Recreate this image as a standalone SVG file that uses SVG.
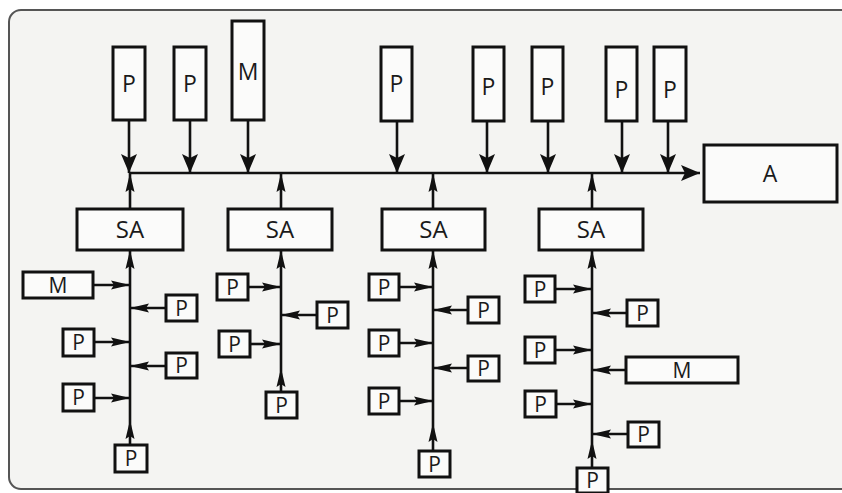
<svg xmlns="http://www.w3.org/2000/svg" width="842" height="493" viewBox="0 0 842 493">
<defs>
<style>
.box{fill:#fbfbfa;stroke:#111;stroke-width:3}
.ln{fill:none;stroke:#111;stroke-width:2.6}
.t{font-family:"Open Sans","Noto Sans",sans-serif;font-size:23px;fill:#1a1a1a;text-anchor:middle}
.sa{font-size:24px}
.s{font-size:21px}
.big{marker-end:url(#big)}
.sm{marker-end:url(#sm)}
</style>
<marker id="big" markerUnits="userSpaceOnUse" markerWidth="20" markerHeight="18" refX="19" refY="8" orient="auto" viewBox="0 0 20 16">
<path d="M0,0 L19,8 L0,16 L4,8 z" fill="#111"/>
</marker>
<marker id="sm" markerUnits="userSpaceOnUse" markerWidth="20" markerHeight="10" refX="19" refY="4.5" orient="auto" viewBox="0 0 20 9">
<path d="M0,0 L19,4.5 L0,9 L3,4.5 z" fill="#111"/>
</marker>
</defs>
<rect x="0" y="0" width="842" height="493" fill="#ffffff"/>
<rect x="9" y="10" width="850" height="479" rx="12" fill="#f4f4f2" stroke="#555" stroke-width="2"/>

<g id="connectors">
<path class="ln big" d="M130,173 L700,173"/>
<path class="ln big" d="M129,120 L129,173"/>
<path class="ln big" d="M190,120 L190,173"/>
<path class="ln big" d="M248,120 L248,173"/>
<path class="ln big" d="M397,121 L397,173"/>
<path class="ln big" d="M487,121 L487,173"/>
<path class="ln big" d="M548,121 L548,173"/>
<path class="ln big" d="M622,121 L622,173"/>
<path class="ln big" d="M668,121 L668,173"/>
<path class="ln sm" d="M130,209 L130,173"/>
<path class="ln sm" d="M281,209 L281,173"/>
<path class="ln sm" d="M433,209 L433,173"/>
<path class="ln sm" d="M592,209 L592,173"/>
<path class="ln sm" d="M130,445 L130,420"/>
<path class="ln sm" d="M130,420 L130,250"/>
<path class="ln sm" d="M93,285 L130,285"/>
<path class="ln sm" d="M166,308 L130,308"/>
<path class="ln sm" d="M94,342 L130,342"/>
<path class="ln sm" d="M166,366 L130,366"/>
<path class="ln sm" d="M94,398 L130,398"/>
<path class="ln sm" d="M281,392 L281,368"/>
<path class="ln sm" d="M281,368 L281,250"/>
<path class="ln sm" d="M248,287 L281,287"/>
<path class="ln sm" d="M317,315 L281,315"/>
<path class="ln sm" d="M250,344 L281,344"/>
<path class="ln sm" d="M433,451 L433,423"/>
<path class="ln sm" d="M433,423 L433,250"/>
<path class="ln sm" d="M399,287 L433,287"/>
<path class="ln sm" d="M468,310 L433,310"/>
<path class="ln sm" d="M399,343 L433,343"/>
<path class="ln sm" d="M468,368 L433,368"/>
<path class="ln sm" d="M399,401 L433,401"/>
<path class="ln sm" d="M592,468 L592,440"/>
<path class="ln sm" d="M592,440 L592,250"/>
<path class="ln sm" d="M555,289 L592,289"/>
<path class="ln sm" d="M627,313 L592,313"/>
<path class="ln sm" d="M555,350 L592,350"/>
<path class="ln sm" d="M626,370 L592,370"/>
<path class="ln sm" d="M556,404 L592,404"/>
<path class="ln sm" d="M628,434 L592,434"/>
</g>

<g id="top-p1"><rect class="box" x="113" y="47" width="32" height="73"/><text class="t" x="129" y="92">P</text></g>
<g id="top-p2"><rect class="box" x="174" y="47" width="32" height="73"/><text class="t" x="190" y="92">P</text></g>
<g id="top-m"><rect class="box" x="232" y="21" width="32" height="99"/><text class="t" x="248" y="80">M</text></g>
<g id="top-p3"><rect class="box" x="381" y="47" width="31" height="74"/><text class="t" x="396.5" y="92">P</text></g>
<g id="top-p4"><rect class="box" x="473" y="47" width="31" height="74"/><text class="t" x="488.5" y="95">P</text></g>
<g id="top-p5"><rect class="box" x="532" y="47" width="31" height="74"/><text class="t" x="547.5" y="95">P</text></g>
<g id="top-p6"><rect class="box" x="606" y="47" width="31" height="74"/><text class="t" x="621.5" y="98">P</text></g>
<g id="top-p7"><rect class="box" x="654" y="47" width="32" height="74"/><text class="t" x="670" y="98">P</text></g>
<g id="A"><rect class="box" x="704" y="145" width="133" height="57"/><text class="t" x="770" y="182">A</text></g>

<g id="SA1"><rect class="box" x="77" y="209" width="106" height="41"/><text class="t sa" x="130" y="238">SA</text></g>
<g id="SA2"><rect class="box" x="228" y="209" width="104" height="41"/><text class="t sa" x="280" y="238">SA</text></g>
<g id="SA3"><rect class="box" x="382" y="209" width="103" height="41"/><text class="t sa" x="433.5" y="238">SA</text></g>
<g id="SA4"><rect class="box" x="539" y="209" width="104" height="41"/><text class="t sa" x="591" y="238">SA</text></g>

<g id="g1-m"><rect class="box" x="23" y="272" width="70" height="26"/><text class="t s" x="58" y="293">M</text></g>
<g id="g1-p1"><rect class="box" x="166" y="295" width="31" height="26"/><text class="t s" x="181.5" y="316">P</text></g>
<g id="g1-p2"><rect class="box" x="63" y="329" width="31" height="27"/><text class="t s" x="78.5" y="350">P</text></g>
<g id="g1-p3"><rect class="box" x="166" y="353" width="31" height="25"/><text class="t s" x="181.5" y="373">P</text></g>
<g id="g1-p4"><rect class="box" x="63" y="384" width="31" height="27"/><text class="t s" x="78.5" y="405">P</text></g>
<g id="g1-p5"><rect class="box" x="115" y="445" width="32" height="27"/><text class="t s" x="131" y="466">P</text></g>

<g id="g2-p1"><rect class="box" x="217" y="274" width="31" height="26"/><text class="t s" x="232.5" y="295">P</text></g>
<g id="g2-p2"><rect class="box" x="317" y="302" width="31" height="26"/><text class="t s" x="332.5" y="323">P</text></g>
<g id="g2-p3"><rect class="box" x="219" y="331" width="31" height="26"/><text class="t s" x="234.5" y="352">P</text></g>
<g id="g2-p4"><rect class="box" x="266" y="392" width="31" height="26"/><text class="t s" x="281.5" y="413">P</text></g>

<g id="g3-p1"><rect class="box" x="369" y="274" width="30" height="26"/><text class="t s" x="384" y="295">P</text></g>
<g id="g3-p2"><rect class="box" x="468" y="297" width="31" height="26"/><text class="t s" x="483.5" y="318">P</text></g>
<g id="g3-p3"><rect class="box" x="369" y="330" width="30" height="26"/><text class="t s" x="384" y="351">P</text></g>
<g id="g3-p4"><rect class="box" x="468" y="356" width="31" height="25"/><text class="t s" x="483.5" y="376">P</text></g>
<g id="g3-p5"><rect class="box" x="369" y="388" width="30" height="26"/><text class="t s" x="384" y="409">P</text></g>
<g id="g3-p6"><rect class="box" x="419" y="451" width="31" height="26"/><text class="t s" x="434.5" y="472">P</text></g>

<g id="g4-p1"><rect class="box" x="525" y="276" width="30" height="26"/><text class="t s" x="540" y="297">P</text></g>
<g id="g4-p2"><rect class="box" x="627" y="300" width="31" height="26"/><text class="t s" x="642.5" y="321">P</text></g>
<g id="g4-p3"><rect class="box" x="525" y="337" width="30" height="26"/><text class="t s" x="540" y="358">P</text></g>
<g id="g4-m"><rect class="box" x="626" y="357" width="112" height="26"/><text class="t s" x="682" y="378">M</text></g>
<g id="g4-p4"><rect class="box" x="525" y="391" width="31" height="26"/><text class="t s" x="540.5" y="412">P</text></g>
<g id="g4-p5"><rect class="box" x="628" y="422" width="31" height="25"/><text class="t s" x="643.5" y="442">P</text></g>
<g id="g4-p6"><rect class="box" x="577" y="468" width="31" height="25"/><text class="t s" x="592.5" y="488">P</text></g>
</svg>
